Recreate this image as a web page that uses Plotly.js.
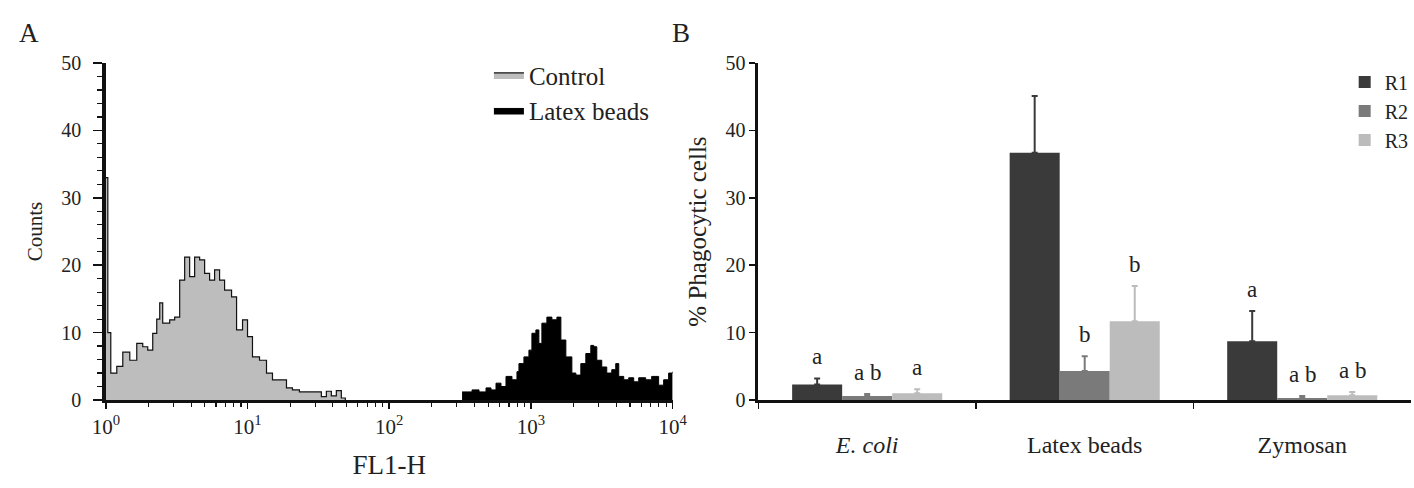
<!DOCTYPE html>
<html>
<head>
<meta charset="utf-8">
<script src="https://cdn.plot.ly/plotly-3.0.1.min.js"></script>
<style>html,body{margin:0;padding:0;background:#fff;}#chart{width:1414px;height:488px;}</style>
</head>
<body>
<div id="chart"></div>
<script>
// ---- Panel A: flow cytometry histogram (FL1-H vs counts) ----
const fl1Control = [1.00, 1.033, 1.084, 1.195, 1.317, 1.476, 1.653, 1.822, 1.976, 2.143, 2.287, 2.401, 2.520, 2.823, 3.061, 3.320, 3.600, 3.904, 4.234, 4.592, 4.980, 5.400, 5.856, 6.351, 6.887, 7.716, 8.368, 9.222, 10.0, 10.84, 12.15, 13.61, 15.00, 16.80, 18.83, 20.75, 23.24, 30.61, 33.20, 36.0, 39.04, 42.34, 45.92, 49.0];
const countsControl = [33, 10, 4, 5, 7.1, 5.9, 8.4, 7.9, 7.4, 9.9, 12, 14.4, 11.4, 11.9, 12.3, 17.8, 21.2, 18.3, 21.2, 20.8, 18.8, 17.8, 19.3, 17.8, 16.3, 15.3, 10.4, 11.9, 9.4, 6.4, 5.9, 4.0, 3.0, 3.0, 1.8, 1.5, 1.2, 1.2, 0.5, 1.3, 0.6, 1.4, 0.3, 0];
const fl1Beads = [326.6, 384.2, 430.3, 482.0, 522.8, 567, 614.9, 666.8, 734.8, 796.9, 823.1, 892.7, 968.1, 1016, 1084, 1138, 1195, 1296, 1406, 1525, 1627, 1764, 1945, 2075, 2250, 2440, 2646, 2778, 2917, 3162, 3429, 3719, 3968, 4167, 4519, 4900, 5314, 5763, 6456, 7113, 7967, 8642, 9371, 10000];
const countsBeads = [1.2, 1.5, 1.2, 1.8, 1.5, 2.5, 2.0, 3.5, 3.0, 4.2, 5.4, 6.4, 7.4, 9.9, 10.4, 8.4, 11.4, 12.3, 11.9, 12.3, 8.9, 6.4, 4.0, 3.7, 5.4, 6.9, 8.1, 7.9, 5.9, 4.9, 4.0, 4.5, 5.4, 3.5, 3.0, 3.3, 2.7, 3.3, 3.0, 3.5, 2.2, 3.0, 4.0, 4.2];
const histNames = ["Control", "Latex beads"];
const decadeVals = [1, 10, 100, 1000, 10000];
const decadeLabels = ["10<sup>0</sup>", "10<sup>1</sup>", "10<sup>2</sup>", "10<sup>3</sup>", "10<sup>4</sup>"];

// ---- Panel B: % phagocytic cells ----
const categories = ["E. coli", "Latex beads", "Zymosan"];
const categoryLabels = ["<i>E. coli</i>", "Latex beads", "Zymosan"];
const seriesNames = ["R1", "R2", "R3"];
const r1Mean = [2.3, 36.7, 8.7];
const r1Err  = [0.9, 8.4, 4.5];
const r2Mean = [0.6, 4.3, 0.3];
const r2Err  = [0.3, 2.2, 0.3];
const r3Mean = [1.0, 11.7, 0.7];
const r3Err  = [0.6, 5.2, 0.5];
const r1Letters = ["a", "", "a"];
const r2Letters = ["a b", "b", "a b"];
const r3Letters = ["a", "b", "a b"];

const FONT = "'Liberation Serif', 'Times New Roman', serif";
const TXT = "#222";
const barColors = ["#3a3a3a", "#7a7a7a", "#bcbcbc"];
const BARGAP = 0.31;

// minor tick positions for log axis (2..9 in each decade)
const minorLog = [];
for (let d = 0; d < 4; d++) for (let m = 2; m <= 9; m++) minorLog.push(m * Math.pow(10, d));

const traces = [
  {
    type: "scatter", mode: "lines", name: histNames[0],
    x: fl1Control, y: countsControl, xaxis: "x", yaxis: "y",
    line: {shape: "hv", color: "#111", width: 1.2},
    fill: "tozeroy", fillcolor: "#bdbdbd", legend: "legend"
  },
  {
    type: "scatter", mode: "lines", name: histNames[1],
    x: fl1Beads, y: countsBeads, xaxis: "x", yaxis: "y",
    line: {shape: "hv", color: "#000", width: 1},
    fill: "tozeroy", fillcolor: "#000", legend: "legend"
  }
];

const means = [r1Mean, r2Mean, r3Mean];
const errs = [r1Err, r2Err, r3Err];
for (let k = 0; k < 3; k++) {
  traces.push({
    type: "bar", name: seriesNames[k], x: categories, y: means[k],
    xaxis: "x2", yaxis: "y2", legend: "legend2",
    marker: {color: barColors[k], line: {width: 0}},
    error_y: {type: "data", symmetric: false, array: errs[k], arrayminus: errs[k].map(() => 0),
              color: barColors[k], thickness: 2, width: 3}
  });
}

// letter annotations above bars
const letters = [r1Letters, r2Letters, r3Letters];
const annotations = [];
const slot = (1 - BARGAP) / 3;
for (let k = 0; k < 3; k++) {
  for (let i = 0; i < categories.length; i++) {
    if (!letters[k][i]) continue;
    annotations.push({
      xref: "x2", yref: "y2", x: i + (k - 1) * slot, y: means[k][i] + errs[k][i],
      text: letters[k][i], showarrow: false, xanchor: "center", yanchor: "bottom", yshift: 7,
      font: {family: FONT, size: 23, color: TXT}
    });
  }
}
annotations.push({xref: "paper", yref: "paper", x: 0.0205, y: 0.932, xanchor: "center", yanchor: "middle",
  text: "A", showarrow: false, font: {family: FONT, size: 27, color: TXT}});
annotations.push({xref: "paper", yref: "paper", x: 0.4823, y: 0.932, xanchor: "center", yanchor: "middle",
  text: "B", showarrow: false, font: {family: FONT, size: 27, color: TXT}});

const yDom = [0.1803, 0.8709];
const layout = {
  width: 1414, height: 488,
  margin: {l: 0, r: 0, t: 0, b: 0},
  paper_bgcolor: "#fff", plot_bgcolor: "rgba(0,0,0,0)",
  font: {family: FONT, color: TXT, size: 20},
  barmode: "group", bargap: BARGAP, bargroupgap: 0,
  xaxis: {
    domain: [0.075, 0.4767], type: "log", range: [0, 4], anchor: "y",
    tickmode: "array", tickvals: decadeVals, ticktext: decadeLabels,
    ticks: "outside", ticklen: 6, tickwidth: 1.5, tickcolor: "#111",
    minor: {tickmode: "array", tickvals: minorLog, ticks: "outside", ticklen: 4, tickwidth: 1.2, tickcolor: "#111"},
    showline: true, linecolor: "#111", linewidth: 2.5, showgrid: false, zeroline: false,
    tickfont: {family: FONT, size: 21, color: TXT},
    title: {text: "FL1-H", font: {family: FONT, size: 27, color: TXT}, standoff: 18}
  },
  yaxis: {
    domain: yDom, range: [0, 50], anchor: "x",
    tickmode: "linear", tick0: 0, dtick: 10,
    ticks: "outside", ticklen: 9, tickwidth: 1.5, tickcolor: "#111", ticklabelstandoff: 8,
    minor: {dtick: 2, ticks: "outside", ticklen: 5, tickwidth: 1.2, tickcolor: "#111"},
    showline: true, linecolor: "#111", linewidth: 3.5, showgrid: false, zeroline: false,
    tickfont: {family: FONT, size: 20, color: TXT},
    title: {text: "Counts", font: {family: FONT, size: 21, color: TXT}, standoff: 14}
  },
  xaxis2: {
    domain: [0.5375, 1], type: "category", anchor: "y2", range: [-0.5, 2.5],
    tickmode: "array", tickvals: categories, ticktext: categoryLabels,
    tickson: "boundaries", ticks: "outside", ticklen: 6, tickwidth: 1.5, tickcolor: "#111",
    ticklabelstandoff: 22,
    showline: true, linecolor: "#111", linewidth: 2.5, showgrid: false, zeroline: false,
    tickfont: {family: FONT, size: 24, color: TXT}
  },
  yaxis2: {
    domain: yDom, range: [0, 50], anchor: "x2",
    tickmode: "linear", tick0: 0, dtick: 10,
    ticks: "outside", ticklen: 6, tickwidth: 1.5, tickcolor: "#111",
    showline: true, linecolor: "#111", linewidth: 3, showgrid: false, zeroline: false,
    tickfont: {family: FONT, size: 20, color: TXT},
    title: {text: "% Phagocytic cells", font: {family: FONT, size: 25, color: TXT}, standoff: 12}
  },
  legend: {
    x: 0.3465, y: 0.893, xanchor: "left", yanchor: "top", bgcolor: "rgba(0,0,0,0)",
    font: {family: FONT, size: 25, color: TXT}, tracegroupgap: 0, itemwidth: 30
  },
  legend2: {
    x: 0.953, y: 0.872, xanchor: "left", yanchor: "top", bgcolor: "rgba(0,0,0,0)",
    font: {family: FONT, size: 20, color: TXT}, tracegroupgap: 0, itemwidth: 30
  },
  annotations: annotations,
  showlegend: true
};

Plotly.newPlot("chart", traces, layout, {staticPlot: true, displayModeBar: false});
</script>
</body>
</html>
